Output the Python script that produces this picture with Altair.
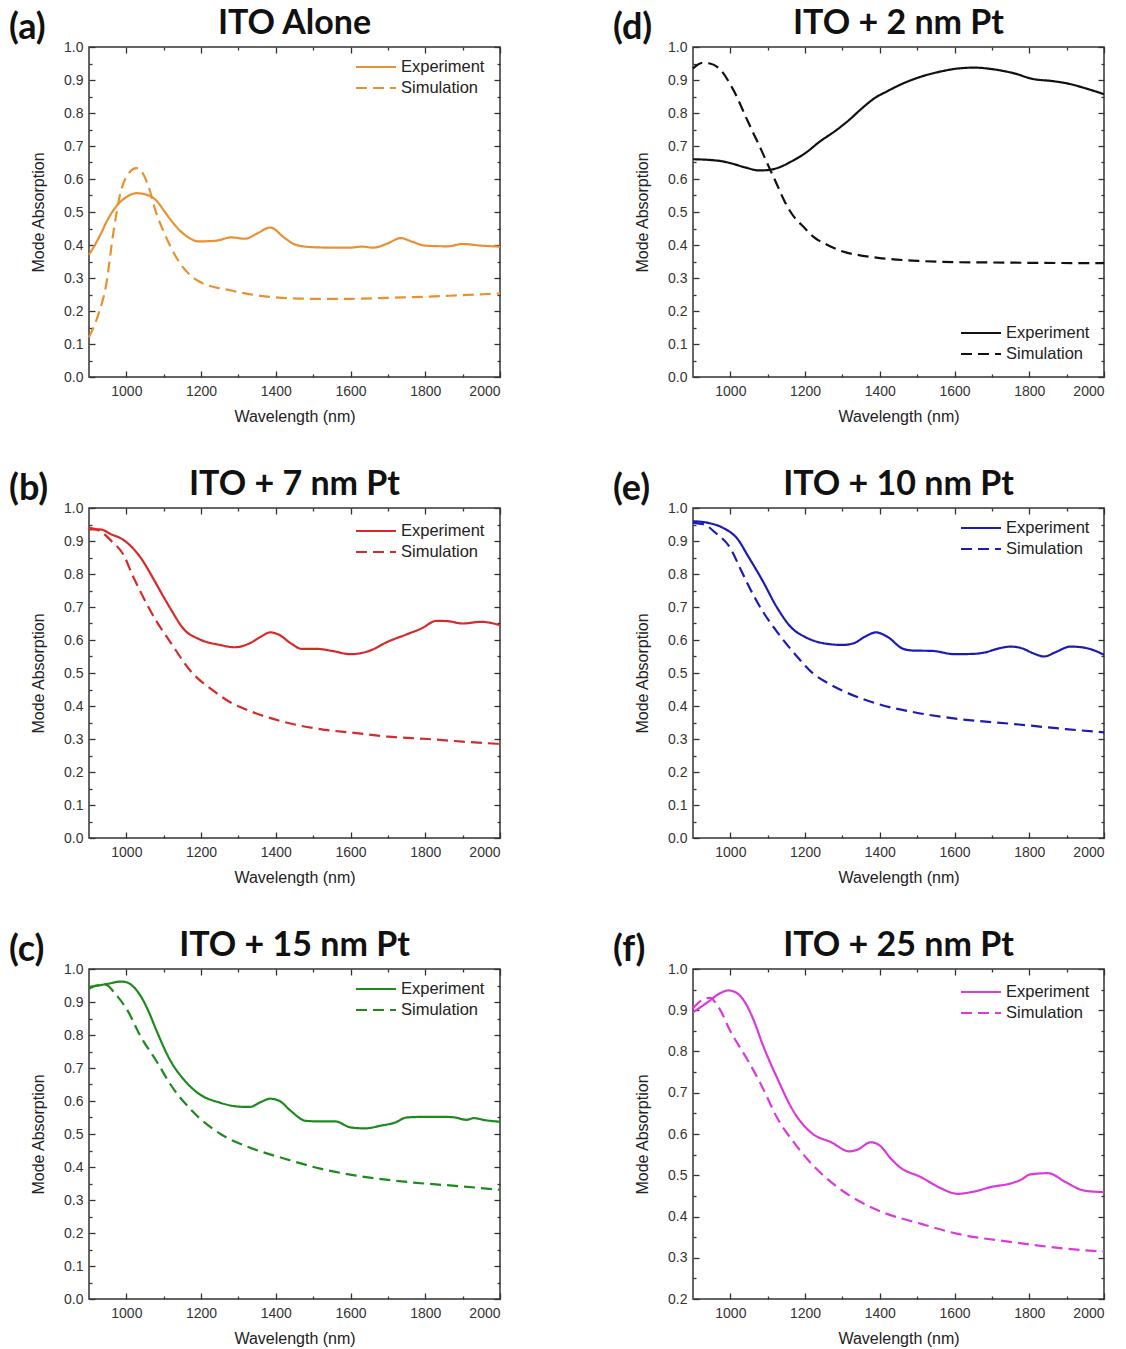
import altair as alt
import pandas as pd

# ---------------- data ----------------
series_names = ["Experiment", "Simulation"]

# (a) ITO Alone
a_exp_x = [900, 930, 950, 975, 1000, 1027, 1055, 1080, 1100, 1118, 1156, 1194, 1240, 1280, 1318, 1350, 1385, 1424, 1452, 1490, 1550, 1600, 1630, 1660, 1700, 1734, 1765, 1800, 1860, 1900, 1950, 2000]
a_exp_y = [0.37, 0.43, 0.477, 0.52, 0.545, 0.557, 0.552, 0.535, 0.505, 0.477, 0.431, 0.411, 0.413, 0.423, 0.419, 0.435, 0.453, 0.421, 0.401, 0.394, 0.392, 0.392, 0.395, 0.392, 0.405, 0.421, 0.41, 0.398, 0.396, 0.403, 0.398, 0.395]
a_sim_x = [900, 925, 946, 965, 984, 1005, 1027, 1045, 1060, 1080, 1100, 1137, 1194, 1280, 1385, 1500, 1600, 1700, 1800, 1900, 2000]
a_sim_y = [0.12, 0.19, 0.28, 0.436, 0.557, 0.615, 0.633, 0.615, 0.575, 0.497, 0.44, 0.356, 0.29, 0.262, 0.243, 0.237, 0.237, 0.24, 0.243, 0.248, 0.253]

# (d) ITO + 2 nm Pt
d_exp_x = [900, 970, 1000, 1040, 1076, 1100, 1130, 1163, 1200, 1240, 1280, 1318, 1350, 1386, 1420, 1463, 1510, 1560, 1610, 1654, 1700, 1760, 1810, 1860, 1900, 1950, 2000]
d_exp_y = [0.66, 0.655, 0.648, 0.635, 0.626, 0.627, 0.635, 0.653, 0.678, 0.714, 0.745, 0.779, 0.812, 0.845, 0.866, 0.89, 0.91, 0.925, 0.935, 0.9375, 0.933, 0.92, 0.903, 0.897, 0.89, 0.875, 0.857]
d_sim_x = [900, 925, 945, 970, 1008, 1047, 1086, 1105, 1124, 1144, 1163, 1200, 1221, 1260, 1299, 1350, 1395, 1500, 1600, 1700, 1800, 2000]
d_sim_y = [0.935, 0.952, 0.95, 0.935, 0.87, 0.774, 0.68, 0.632, 0.585, 0.535, 0.497, 0.45, 0.426, 0.40, 0.381, 0.368, 0.361, 0.352, 0.348, 0.347, 0.346, 0.345]

# (b) ITO + 7 nm Pt
b_exp_x = [900, 930, 960, 990, 1020, 1041, 1060, 1080, 1100, 1118, 1156, 1194, 1250, 1290, 1330, 1360, 1385, 1410, 1440, 1470, 1510, 1550, 1600, 1650, 1700, 1750, 1790, 1830, 1860, 1900, 1950, 2000]
b_exp_y = [0.935, 0.935, 0.92, 0.905, 0.875, 0.845, 0.81, 0.77, 0.73, 0.695, 0.63, 0.603, 0.585, 0.578, 0.59, 0.61, 0.623, 0.615, 0.59, 0.573, 0.573, 0.567, 0.557, 0.567, 0.595, 0.617, 0.635, 0.658, 0.657, 0.65, 0.655, 0.645]
b_sim_x = [900, 930, 960, 994, 1015, 1041, 1080, 1118, 1175, 1232, 1280, 1328, 1424, 1519, 1615, 1700, 1806, 1900, 2000]
b_sim_y = [0.94, 0.93, 0.90, 0.855, 0.80, 0.739, 0.658, 0.593, 0.502, 0.447, 0.41, 0.386, 0.351, 0.33, 0.318, 0.307, 0.30, 0.292, 0.285]

# (e) ITO + 10 nm Pt
e_exp_x = [900, 940, 980, 1020, 1047, 1086, 1124, 1163, 1202, 1250, 1300, 1330, 1360, 1390, 1420, 1463, 1490, 1540, 1600, 1650, 1680, 1720, 1750, 1780, 1810, 1840, 1870, 1910, 1940, 1970, 2000]
e_exp_y = [0.96, 0.955, 0.94, 0.905, 0.855, 0.78, 0.70, 0.638, 0.608, 0.59, 0.585, 0.59, 0.61, 0.623, 0.61, 0.573, 0.568, 0.567, 0.557, 0.558, 0.562, 0.575, 0.58, 0.575, 0.56, 0.55, 0.563, 0.58, 0.578, 0.57, 0.555]
e_sim_x = [900, 930, 960, 999, 1028, 1047, 1086, 1124, 1173, 1221, 1260, 1299, 1395, 1492, 1608, 1753, 1898, 2000]
e_sim_y = [0.955, 0.95, 0.925, 0.88, 0.813, 0.768, 0.688, 0.626, 0.557, 0.499, 0.47, 0.447, 0.406, 0.381, 0.361, 0.346, 0.33, 0.32]

# (c) ITO + 15 nm Pt
c_exp_x = [900, 950, 985, 1000, 1020, 1040, 1060, 1080, 1118, 1156, 1194, 1250, 1300, 1330, 1360, 1385, 1410, 1440, 1480, 1520, 1560, 1600, 1640, 1680, 1720, 1750, 1800, 1850, 1880, 1910, 1930, 1960, 2000]
c_exp_y = [0.945, 0.955, 0.962, 0.96, 0.945, 0.915, 0.87, 0.815, 0.722, 0.662, 0.622, 0.595, 0.583, 0.582, 0.597, 0.607, 0.60, 0.57, 0.54, 0.538, 0.538, 0.52, 0.517, 0.525, 0.535, 0.55, 0.552, 0.552, 0.55, 0.543, 0.548, 0.542, 0.537]
c_sim_x = [900, 920, 945, 970, 1000, 1041, 1080, 1118, 1175, 1252, 1328, 1424, 1519, 1615, 1758, 1901, 2000]
c_sim_y = [0.94, 0.95, 0.952, 0.925, 0.88, 0.79, 0.722, 0.65, 0.571, 0.50, 0.46, 0.425, 0.395, 0.374, 0.354, 0.341, 0.331]

# (f) ITO + 25 nm Pt
f_exp_x = [900, 940, 970, 995, 1020, 1045, 1065, 1086, 1124, 1173, 1221, 1270, 1318, 1340, 1376, 1400, 1430, 1453, 1511, 1560, 1608, 1650, 1700, 1750, 1780, 1802, 1850, 1898, 1946, 2000]
f_exp_y = [0.895, 0.92, 0.94, 0.948, 0.94, 0.91, 0.87, 0.818, 0.738, 0.649, 0.60, 0.58, 0.558, 0.562, 0.58, 0.572, 0.54, 0.52, 0.495, 0.47, 0.455, 0.46, 0.472, 0.48, 0.49, 0.502, 0.505, 0.483, 0.463, 0.459]
f_sim_x = [900, 925, 945, 970, 999, 1047, 1086, 1124, 1173, 1221, 1299, 1395, 1511, 1608, 1753, 1898, 2000]
f_sim_y = [0.905, 0.925, 0.93, 0.905, 0.851, 0.778, 0.713, 0.641, 0.576, 0.524, 0.463, 0.415, 0.382, 0.358, 0.338, 0.322, 0.315]

# axis ticks
x_major = [1000, 1200, 1400, 1600, 1800, 2000]
x_minor = [1100, 1300, 1500, 1700, 1900]
y_major_full = [0.0, 0.1, 0.2, 0.3, 0.4, 0.5, 0.6, 0.7, 0.8, 0.9, 1.0]
y_minor_full = [0.05, 0.15, 0.25, 0.35, 0.45, 0.55, 0.65, 0.75, 0.85, 0.95]
y_major_f = [0.2, 0.3, 0.4, 0.5, 0.6, 0.7, 0.8, 0.9, 1.0]
y_minor_f = [0.25, 0.35, 0.45, 0.55, 0.65, 0.75, 0.85, 0.95]

panels = [
    dict(tag="(a)", title="ITO Alone", color="#E8912E", ex=a_exp_x, ey=a_exp_y, sx=a_sim_x, sy=a_sim_y,
         ymin=0.0, ymaj=y_major_full, ymin_t=y_minor_full, lx=267, ly=20),
    dict(tag="(d)", title="ITO + 2 nm Pt", color="#111111", ex=d_exp_x, ey=d_exp_y, sx=d_sim_x, sy=d_sim_y,
         ymin=0.0, ymaj=y_major_full, ymin_t=y_minor_full, lx=268, ly=286),
    dict(tag="(b)", title="ITO + 7 nm Pt", color="#D42A2A", ex=b_exp_x, ey=b_exp_y, sx=b_sim_x, sy=b_sim_y,
         ymin=0.0, ymaj=y_major_full, ymin_t=y_minor_full, lx=267, ly=23),
    dict(tag="(e)", title="ITO + 10 nm Pt", color="#1C1CB4", ex=e_exp_x, ey=e_exp_y, sx=e_sim_x, sy=e_sim_y,
         ymin=0.0, ymaj=y_major_full, ymin_t=y_minor_full, lx=268, ly=20),
    dict(tag="(c)", title="ITO + 15 nm Pt", color="#1E8A1E", ex=c_exp_x, ey=c_exp_y, sx=c_sim_x, sy=c_sim_y,
         ymin=0.0, ymaj=y_major_full, ymin_t=y_minor_full, lx=267, ly=20),
    dict(tag="(f)", title="ITO + 25 nm Pt", color="#D93BD9", ex=f_exp_x, ey=f_exp_y, sx=f_sim_x, sy=f_sim_y,
         ymin=0.2, ymaj=y_major_f, ymin_t=y_minor_f, lx=268, ly=23),
]

W, H = 411, 330
MAJ, MIN = 6, 3
ROW_GAP = 21
SYM_LEN = 40


def make_panel(p):
    df = pd.concat([
        pd.DataFrame({"wl": p["ex"], "val": p["ey"], "series": "Experiment"}),
        pd.DataFrame({"wl": p["sx"], "val": p["sy"], "series": "Simulation"}),
    ], ignore_index=True)
    xs = alt.Scale(domain=[900, 2000], nice=False, zero=False)
    ys = alt.Scale(domain=[p["ymin"], 1.0], nice=False, zero=False)
    cscale = alt.Scale(domain=series_names, range=[p["color"], p["color"]])
    dscale = alt.Scale(domain=series_names, range=[[1, 0], [11, 6]])
    base = alt.Chart(df)

    lines = base.mark_line(strokeWidth=2.2, interpolate="monotone").encode(
        x=alt.X("wl:Q", scale=xs,
                axis=alt.Axis(orient="bottom", values=x_major, format="d", tickSize=MAJ, offset=-MAJ,
                              labelPadding=7, title="Wavelength (nm)", titlePadding=10)),
        y=alt.Y("val:Q", scale=ys,
                axis=alt.Axis(orient="left", values=p["ymaj"], format=".1f", tickSize=MAJ, offset=-MAJ,
                              labelPadding=6, title="Mode Absorption", titlePadding=17)),
        color=alt.Color("series:N", scale=cscale, legend=None),
        strokeDash=alt.StrokeDash("series:N", scale=dscale, legend=None),
        detail="series:N",
    )

    minor_lb = base.mark_point(opacity=0).encode(
        x=alt.X("wl:Q", scale=xs, axis=alt.Axis(orient="bottom", values=x_minor, labels=False, title=None,
                                                 tickSize=MIN, offset=-MIN)),
        y=alt.Y("val:Q", scale=ys, axis=alt.Axis(orient="left", values=p["ymin_t"], labels=False, title=None,
                                                  tickSize=MIN, offset=-MIN)),
    )
    major_tr = base.mark_point(opacity=0).encode(
        x=alt.X("wl:Q", scale=xs, axis=alt.Axis(orient="top", values=x_major, labels=False, title=None,
                                                 tickSize=MAJ, offset=-MAJ)),
        y=alt.Y("val:Q", scale=ys, axis=alt.Axis(orient="right", values=p["ymaj"], labels=False, title=None,
                                                  tickSize=MAJ, offset=-MAJ)),
    )
    minor_tr = base.mark_point(opacity=0).encode(
        x=alt.X("wl:Q", scale=xs, axis=alt.Axis(orient="top", values=x_minor, labels=False, title=None,
                                                 tickSize=MIN, offset=-MIN)),
        y=alt.Y("val:Q", scale=ys, axis=alt.Axis(orient="right", values=p["ymin_t"], labels=False, title=None,
                                                  tickSize=MIN, offset=-MIN)),
    )

    # legend (inside the plot) drawn from the series names
    leg = alt.Chart(pd.DataFrame({"series": series_names}))
    lscale = alt.Scale(type="point", domain=series_names, range=[p["ly"], p["ly"] + ROW_GAP], padding=0)
    leg_line = leg.mark_rule(strokeWidth=2.2).encode(
        x=alt.value(p["lx"]), x2=alt.value(p["lx"] + SYM_LEN),
        y=alt.Y("series:N", scale=lscale, axis=None),
        color=alt.Color("series:N", scale=cscale, legend=None),
        strokeDash=alt.StrokeDash("series:N", scale=dscale, legend=None),
    )
    leg_text = leg.mark_text(
        font="Liberation Sans", fontSize=16.5, align="left", baseline="middle", color="#222"
    ).encode(
        x=alt.value(p["lx"] + SYM_LEN + 5),
        y=alt.Y("series:N", scale=lscale, axis=None),
        text="series:N",
    )

    txt = alt.Chart(pd.DataFrame({"tag": [p["tag"]], "title": [p["title"]]}))
    tag = txt.mark_text(
        font="Lato", fontWeight="bold", fontSize=36, align="left", baseline="alphabetic", color="#111"
    ).encode(x=alt.value(-80), y=alt.value(-8), text="tag:N")
    title = txt.mark_text(
        font="Lato", fontWeight="bold", fontSize=34, align="center", baseline="alphabetic", color="#111"
    ).encode(x=alt.value(W / 2), y=alt.value(-13), text="title:N")

    return alt.layer(lines, minor_lb, major_tr, minor_tr, leg_line, leg_text, tag, title).resolve_axis(
        x="independent", y="independent"
    ).resolve_scale(y="independent").properties(width=W, height=H)


charts = [make_panel(p) for p in panels]

chart = alt.concat(*charts, columns=2, spacing={"row": 42, "column": 106}).resolve_scale(
    color="independent", strokeDash="independent"
).properties(
    padding={"left": 8, "top": 6, "right": 5, "bottom": 0}, background="white"
).configure_view(
    stroke="#333", strokeWidth=1.5
).configure_axis(
    domain=False, grid=False, tickColor="#333", tickWidth=1.3,
    labelFont="Liberation Sans", labelFontSize=14, labelColor="#333",
    titleFont="Liberation Sans", titleFontSize=16, titleFontWeight="normal", titleColor="#222",
)

chart.save("out.html", embed_options={"renderer": "svg", "actions": False})
